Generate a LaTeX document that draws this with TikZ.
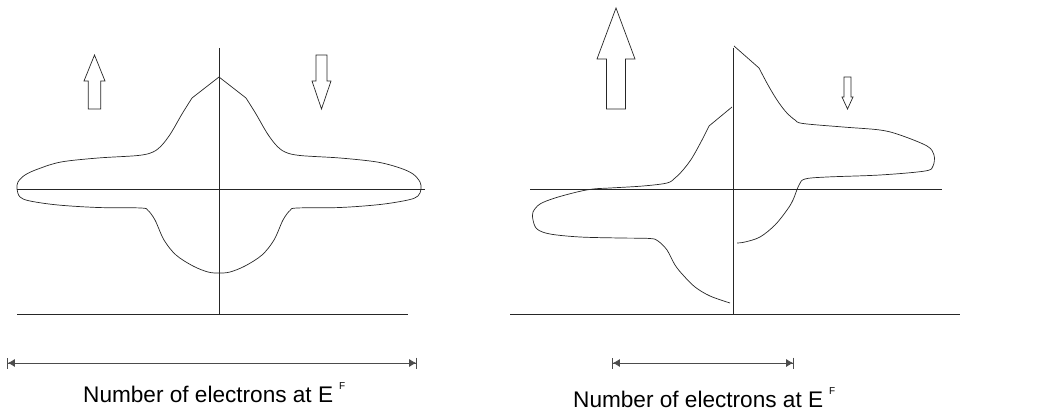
\documentclass[tikz,border=0pt]{standalone}
\usepackage{fontspec}
\setmainfont{Liberation Sans}
\usetikzlibrary{arrows.meta}
% outlined spin arrow: centre x, tail y, head-base y, tip y, shaft half width, head half width
\newcommand{\spinarrow}[6]{\draw[spin] (#1-#5,#2) -- (#1-#5,#3) -- (#1-#6,#3) -- (#1,#4)
	-- (#1+#6,#3) -- (#1+#5,#3) -- (#1+#5,#2) -- cycle;}
\newcommand{\fermi}{E\hspace{6pt}\raisebox{12.5pt}{\fontsize{10}{12}\selectfont F}}

\begin{document}
\begin{tikzpicture}[
		x=1pt, y=-1pt,
		axis/.style={draw=black!85, line width=0.7pt},
		dos/.style={draw=black!85, line width=0.7pt, line join=round},
		spin/.style={draw=black!85, line width=0.7pt, fill=white},
		dim/.style={draw=black!70, line width=0.8pt,
			{Bar[width=11pt]Latex[length=7pt,width=8pt]}-{Latex[length=7pt,width=8pt]Bar[width=11pt]}},
		lbl/.style={font=\fontsize{22.6}{26}\selectfont, inner sep=0pt}
	]
	\useasboundingbox (0,0) rectangle (1040,412);

	% left panel: paramagnetic
	\draw[axis] (219,48) -- (219,315);
	\draw[axis] (17,189) -- (425,189);
	\draw[axis] (17,314) -- (408,314);
	\draw[dos] (219,77) -- plot[smooth, tension=0.55] coordinates {
		(246,98) (256,114) (267,133) (276,145) (285,152) (300,155.5) (340,158)
		(377,162) (400,168) (413,174) (420,182) (421,189) (418,196) (408,200)
		(380,204.5) (340,207.5) (297,208) (290,210.5) (283,220) (274,240)
		(262,255) (245,266) (230,272) (219,273) (208,272) (193,266) (176,255)
		(164,240) (155,220) (148,210.5) (141,208) (98,207.5) (58,205) (30,201)
		(20,197) (17,189) (18,182) (25,175) (38,169) (61,162) (98,158)
		(138,155.5) (153,152) (162,145) (171,133) (182,114) (192,98)} -- cycle;
	\spinarrow{94.5}{109}{81}{55}{6.25}{10.5}
	\spinarrow{321.5}{55}{81}{109}{5.5}{9.5}
	\coordinate (dimLa) at (7,363);
	\coordinate (dimLb) at (417,363);
	\draw[dim] (dimLa) -- (dimLb);
	\node[lbl, anchor=base west] (lblL) at (83,402) {Number of electrons at \fermi};

	% right panel: ferromagnetic
	\draw[axis] (733,48) -- (733,315);
	\draw[axis] (530,189) -- (942,189);
	\draw[axis] (510,314) -- (960,314);
	\draw[dos] (732,107) -- plot[smooth, tension=0.55] coordinates {
		(709,126) (702,140) (692,158) (683,170) (675,178) (667,183) (643,186)
		(610,188) (593,189) (577,192) (555,198) (540,204) (533,212) (533,220)
		(537,229) (550,234) (580,237) (620,238) (650,238.5) (658,241) (667,250)
		(675,265) (683,275) (695,287) (710,296) (730,303)};
	\draw[dos] (734,46) -- plot[smooth, tension=0.55] coordinates {
		(759,68) (768,85) (777,100) (786,112) (795,120) (803,123.5) (843,127)
		(880,130) (900,135) (927,146) (934,155) (933,166) (925,171) (880,175)
		(827,177) (805,179) (799,185) (793,200) (787,210) (775,225) (760,237)
		(745,242) (737,243)};
	\spinarrow{616}{109}{59}{8}{9.5}{19}
	\spinarrow{847.5}{77}{97}{109}{3.5}{5.5}
	\coordinate (dimRa) at (612,363);
	\coordinate (dimRb) at (794,363);
	\draw[dim] (dimRa) -- (dimRb);
	\node[lbl, anchor=base west] (lblR) at (573,407) {Number of electrons at \fermi};
\end{tikzpicture}
\end{document}
